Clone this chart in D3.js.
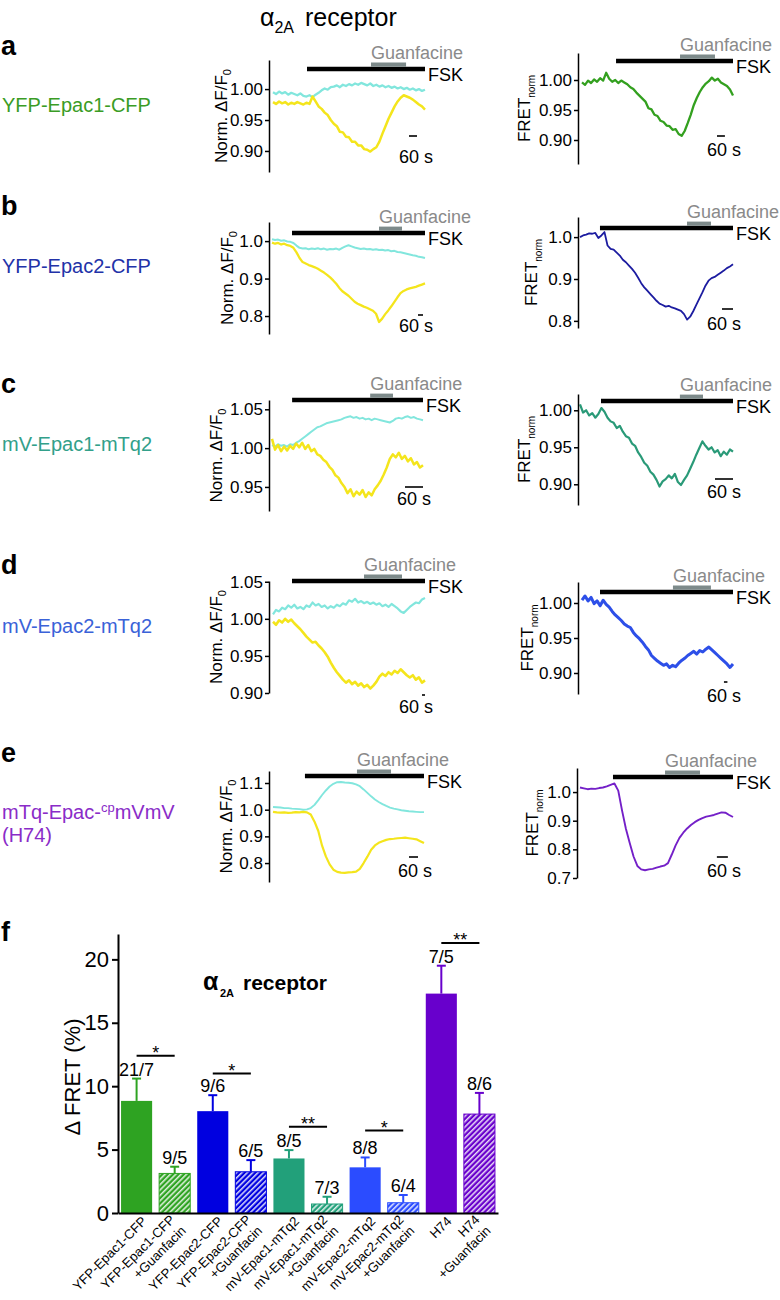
<!DOCTYPE html>
<html><head><meta charset="utf-8">
<script src="https://cdn.jsdelivr.net/npm/d3@7"></script>
<style>body{margin:0;background:#fff}svg{display:block}</style>
</head><body><svg id="chart" width="780" height="1300"></svg>
<script>
// ---------------- DATA ----------------
// timing arrays: [total duration (s), FSK on (s), guanfacine on (s), guanfacine off (s), 60-s scale bar start (s)]
const aLeftTiming  = [1140, 255, 735, 998, 1020];
const aRightTiming = [1140, 257, 740, 1004, 1019];
const bLeftTiming  = [1836, 240, 1284, 1560, 1752];
const bRightTiming = [835, 109, 584, 715, 775];
const cLeftTiming  = [503, 67, 327, 403, 443];
const cRightTiming = [510, 70, 333, 410, 450];
const dLeftTiming  = [3040, 380, 1820, 2580, 2980];
const dRightTiming = [2600, 310, 1566, 2220, 2444];
const eLeftTiming  = [1007, 213, 560, 787, 907];
const eRightTiming = [835, 180, 464, 655, 747];

const aLeftTicks = [0.90, 0.95, 1.00], aRightTicks = [0.90, 0.95, 1.00];
const bLeftTicks = [0.8, 0.9, 1.0], bRightTicks = [0.8, 0.9, 1.0];
const cLeftTicks = [0.95, 1.00, 1.05], cRightTicks = [0.90, 0.95, 1.00];
const dLeftTicks = [0.90, 0.95, 1.00, 1.05], dRightTicks = [0.90, 0.95, 1.00];
const eLeftTicks = [0.8, 0.9, 1.0, 1.1], eRightTicks = [0.7, 0.8, 0.9, 1.0];

const aLeftDomain = [0.866, 1.047], aRightDomain = [0.860, 1.045];
const bLeftDomain = [0.752, 1.051], bRightDomain = [0.783, 1.048];
const cLeftDomain = [0.919, 1.062], cRightDomain = [0.872, 1.022];
const dLeftDomain = [0.900, 1.051], dRightDomain = [0.870, 1.030];
const eLeftDomain = [0.729, 1.145], eRightDomain = [0.700, 1.084];

const aLeftCyan = [0.995,0.992,0.996,0.993,0.995,0.991,0.994,0.992,0.990,0.993,0.989,
 0.988,0.990,0.987,0.991,0.994,0.998,1.001,0.999,1.003,1.004,
 1.006,1.003,1.007,1.005,1.008,1.006,1.009,1.007,1.010,1.008,
 1.006,1.009,1.005,1.007,1.004,1.006,1.003,1.005,1.002,1.004,
 1.001,1.003,1.000,1.002,0.999,1.001,0.998,1.000,0.997,0.999];
const aLeftYellow = [0.979,0.976,0.980,0.977,0.979,0.975,0.978,0.976,0.979,0.977,0.975,0.978,0.976,
 0.988,0.980,0.972,0.968,0.962,0.958,0.950,0.944,
 0.940,0.931,0.930,0.923,0.922,0.915,0.915,0.909,0.909,0.903,
 0.902,0.899,0.903,0.906,
 0.915,0.928,0.940,0.952,0.962,0.972,0.980,0.986,0.990,0.988,0.986,0.983,0.979,0.975,0.972,0.967];
const aRightFret = [0.996,0.992,0.999,0.995,1.001,0.997,1.003,0.999,1.012,1.002,
 0.997,1.000,0.995,0.999,0.996,0.993,0.988,0.985,0.979,0.974,
 0.969,0.964,0.953,0.951,0.942,0.940,0.932,0.930,0.924,0.923,
 0.917,0.918,0.910,0.907,0.915,0.928,0.942,0.958,0.970,0.980,
 0.988,0.994,0.998,1.004,0.999,1.002,0.996,0.993,0.990,0.984,0.974];
const bLeftCyan = [1.005,1.003,1.004,1.001,1.002,0.999,0.998,0.995,0.988,0.982,
 0.980,0.981,0.978,0.980,0.979,0.981,0.978,0.980,0.977,0.979,
 0.978,0.980,0.977,0.982,0.986,0.989,0.986,0.983,0.981,0.979,
 0.980,0.978,0.979,0.977,0.978,0.976,0.977,0.975,0.976,0.973,
 0.974,0.971,0.970,0.968,0.966,0.964,0.962,0.961,0.958,0.957,0.955];
const bLeftYellow = [0.996,0.993,0.995,0.991,0.993,0.989,0.987,0.982,0.970,0.955,
 0.944,0.940,0.936,0.933,0.930,0.926,0.921,0.916,0.910,0.903,
 0.895,0.886,0.875,0.866,0.860,0.854,0.846,0.838,0.833,0.829,
 0.825,0.822,0.818,0.814,0.806,0.784,0.793,0.805,0.815,0.826,
 0.838,0.850,0.861,0.867,0.871,0.874,0.876,0.878,0.881,0.884,0.887];
const bRightFret = [1.000,1.004,1.006,1.009,1.008,1.010,0.998,1.004,1.012,0.980,
 0.972,0.970,0.963,0.956,0.946,0.940,0.932,0.924,0.915,0.903,
 0.890,0.880,0.872,0.864,0.856,0.848,0.841,0.838,0.834,0.836,
 0.832,0.830,0.827,0.824,0.816,0.803,0.810,0.823,0.838,0.853,
 0.868,0.884,0.896,0.902,0.905,0.910,0.915,0.920,0.926,0.930,0.935];
const cLeftCyan = [1.004,1.002,1.005,1.003,1.004,1.002,1.005,1.004,1.007,1.009,
 1.012,1.015,1.018,1.021,1.024,1.027,1.028,1.030,1.032,1.033,
 1.034,1.035,1.036,1.037,1.039,1.040,1.041,1.039,1.040,1.038,
 1.039,1.037,1.038,1.036,1.038,1.037,1.036,1.035,1.034,1.033,
 1.035,1.038,1.039,1.038,1.040,1.041,1.039,1.040,1.038,1.037,1.036];
const cLeftYellow = [1.012,0.998,1.004,0.996,1.002,0.997,1.003,0.999,1.006,1.001,
 1.007,0.999,1.004,0.996,0.999,0.992,0.990,0.985,0.982,0.976,
 0.972,0.965,0.962,0.955,0.950,0.942,0.947,0.938,0.944,0.940,
 0.946,0.937,0.943,0.939,0.947,0.952,0.958,0.966,0.975,0.986,
 0.992,0.988,0.994,0.986,0.990,0.983,0.987,0.979,0.982,0.975,0.978];
const cRightFret = [1.008,0.997,1.000,0.993,0.996,0.990,0.995,1.003,0.998,0.990,
 0.985,0.983,0.976,0.979,0.971,0.965,0.963,0.955,0.952,0.943,
 0.937,0.929,0.925,0.917,0.913,0.906,0.897,0.904,0.907,0.912,
 0.908,0.914,0.903,0.899,0.906,0.912,0.921,0.930,0.940,0.949,
 0.958,0.952,0.947,0.950,0.943,0.946,0.938,0.944,0.940,0.947,0.944];
const dLeftCyan = [1.006,1.012,1.010,1.015,1.013,1.018,1.015,1.019,1.014,1.016,
 1.013,1.018,1.016,1.022,1.018,1.020,1.016,1.018,1.014,1.017,
 1.015,1.019,1.017,1.021,1.019,1.025,1.023,1.027,1.022,1.024,
 1.021,1.023,1.020,1.022,1.019,1.021,1.017,1.019,1.016,1.020,
 1.017,1.014,1.010,1.008,1.012,1.016,1.019,1.022,1.021,1.026,1.028];
const dLeftYellow = [0.996,0.992,0.998,0.995,1.000,0.996,0.999,0.994,0.990,0.986,
 0.981,0.976,0.972,0.968,0.969,0.964,0.960,0.955,0.949,0.941,
 0.934,0.928,0.923,0.918,0.914,0.917,0.912,0.915,0.910,0.913,
 0.908,0.911,0.906,0.910,0.915,0.922,0.926,0.923,0.928,0.925,
 0.930,0.927,0.932,0.928,0.924,0.921,0.924,0.918,0.921,0.914,0.917];
const dRightFret = [1.004,1.010,1.003,1.008,0.999,1.003,0.996,1.004,0.998,0.994,
 0.988,0.983,0.979,0.975,0.970,0.967,0.965,0.958,0.953,0.949,
 0.944,0.938,0.933,0.925,0.921,0.917,0.914,0.911,0.913,0.908,
 0.911,0.909,0.914,0.918,0.921,0.925,0.928,0.931,0.927,0.932,
 0.930,0.934,0.937,0.933,0.929,0.925,0.921,0.917,0.913,0.908,0.913];
const eLeftCyan = [1.010,1.009,1.008,1.006,1.006,1.004,1.003,1.002,1.000,1.001,
 1.006,1.018,1.036,1.055,1.072,1.087,1.097,1.103,1.104,1.102,
 1.101,1.099,1.095,1.088,1.076,1.063,1.050,1.038,1.029,1.021,
 1.014,1.008,1.004,1.001,0.998,0.996,0.994,0.993,0.992,0.991,0.991];
const eLeftYellow = [0.992,0.990,0.989,0.990,0.988,0.989,0.991,0.990,0.992,0.990,
 0.982,0.955,0.920,0.865,0.825,0.795,0.775,0.767,0.764,0.763,
 0.765,0.766,0.768,0.778,0.800,0.824,0.850,0.866,0.876,0.882,
 0.887,0.890,0.891,0.893,0.894,0.895,0.893,0.891,0.889,0.882,0.875];
const eRightFret = [1.016,1.013,1.010,1.012,1.011,1.014,1.016,1.020,1.025,1.030,
 1.005,0.935,0.872,0.822,0.775,0.742,0.730,0.727,0.730,0.732,
 0.736,0.740,0.743,0.752,0.782,0.814,0.840,0.858,0.873,0.885,
 0.895,0.903,0.909,0.914,0.917,0.920,0.925,0.929,0.928,0.920,0.913];

// Bar chart (panel f)
const barCategories = ["YFP-Epac1-CFP","YFP-Epac1-CFP\n+Guanfacin","YFP-Epac2-CFP","YFP-Epac2-CFP\n+Guanfacin",
 "mV-Epac1-mTq2","mV-Epac1-mTq2\n+Guanfacin","mV-Epac2-mTq2","mV-Epac2-mTq2\n+Guanfacin","H74","H74\n+Guanfacin"];
const barValues = [8.84, 3.12, 8.03, 3.25, 4.30, 0.71, 3.60, 0.81, 17.3, 7.80];
const barErrors = [1.76, 0.53, 1.26, 0.92, 0.66, 0.57, 0.78, 0.61, 2.20, 1.67];
const barN = ["21/7","9/5","9/6","6/5","8/5","7/3","8/8","6/4","7/5","8/6"];
const barTicks = [0, 5, 10, 15, 20];
const sigPairs = [[0,1],[2,3],[4,5],[6,7],[8,9]];
const sigLabels = ["*","*","**","*","**"];
const sigLevels = [12.4, 11.0, 6.8, 6.5, 21.3];

// ---------------- STYLE ----------------
const FONT = '"Liberation Sans", Arial, Helvetica, sans-serif';
const CYAN = '#82e6dd', YELLOW = '#f4e51c';
const barPalette = ['#2ea322','#2ea322','#0000e0','#0000e0','#22a07a','#22a07a','#2b4cff','#2b4cff','#6800cc','#6800cc'];

const svg = d3.select('#chart').attr('font-family', FONT);

const panels = [
 {traces:[{v:aLeftCyan,c:CYAN,w:2.3},{v:aLeftYellow,c:YELLOW,w:2.5}], timing:aLeftTiming, ticks:aLeftTicks, domain:aLeftDomain, fmt:'.2f', kind:'norm',
  yRange:[172,60], axisX:269, x0:273, x1:425, fskY:69, scaleY:136, scaleTextY:163, titleX:227},
 {traces:[{v:aRightFret,c:'#33a01f',w:2.3}], timing:aRightTiming, ticks:aRightTicks, domain:aRightDomain, fmt:'.2f', kind:'fret',
  yRange:[164,53], axisX:578, x0:582, x1:733, fskY:61, scaleY:136, scaleTextY:156, titleX:530},
 {traces:[{v:bLeftCyan,c:CYAN,w:2},{v:bLeftYellow,c:YELLOW,w:2.3}], timing:bLeftTiming, ticks:bLeftTicks, domain:bLeftDomain, fmt:'.1f', kind:'norm',
  yRange:[334,222], axisX:269, x0:272, x1:425, fskY:233, scaleY:315, scaleTextY:332, titleX:233},
 {traces:[{v:bRightFret,c:'#1c1ca0',w:1.8}], timing:bRightTiming, ticks:bRightTicks, domain:bRightDomain, fmt:'.1f', kind:'fret',
  yRange:[328,217], axisX:578, x0:580, x1:733, fskY:228, scaleY:309, scaleTextY:330, titleX:537},
 {traces:[{v:cLeftCyan,c:CYAN,w:2},{v:cLeftYellow,c:YELLOW,w:2.5}], timing:cLeftTiming, ticks:cLeftTicks, domain:cLeftDomain, fmt:'.2f', kind:'norm',
  yRange:[511,400], axisX:269, x0:272, x1:423, fskY:400, scaleY:487, scaleTextY:505, titleX:222},
 {traces:[{v:cRightFret,c:'#2a9a78',w:2.2}], timing:cRightTiming, ticks:cRightTicks, domain:cRightDomain, fmt:'.2f', kind:'fret',
  yRange:[505,394], axisX:578, x0:580, x1:733, fskY:401, scaleY:479, scaleTextY:498, titleX:530},
 {traces:[{v:dLeftCyan,c:CYAN,w:2.2},{v:dLeftYellow,c:YELLOW,w:2.6}], timing:dLeftTiming, ticks:dLeftTicks, domain:dLeftDomain, fmt:'.2f', kind:'norm',
  yRange:[693,581], axisX:269, x0:273, x1:425, fskY:581, scaleY:695, scaleTextY:713, titleX:222},
 {traces:[{v:dRightFret,c:'#2d4fe8',w:3}], timing:dRightTiming, ticks:dRightTicks, domain:dRightDomain, fmt:'.2f', kind:'fret',
  yRange:[694,582], axisX:578, x0:582, x1:733, fskY:592, scaleY:682, scaleTextY:702, titleX:533},
 {traces:[{v:eLeftCyan,c:CYAN,w:1.9},{v:eLeftYellow,c:YELLOW,w:2.2}], timing:eLeftTiming, ticks:eLeftTicks, domain:eLeftDomain, fmt:'.1f', kind:'norm',
  yRange:[882,771], axisX:269, x0:273, x1:424, fskY:776, scaleY:857, scaleTextY:877, titleX:232},
 {traces:[{v:eRightFret,c:'#7420c8',w:1.9}], timing:eRightTiming, ticks:eRightTicks, domain:eRightDomain, fmt:'.1f', kind:'fret',
  yRange:[878,768], axisX:577, x0:580, x1:733, fskY:777, scaleY:857, scaleTextY:877, titleX:538}
];

function drawTracePanel(p) {
  const g = svg.append('g');
  const [dur, fskOn, gOn, gOff, sc] = p.timing;
  const t = d3.scaleLinear().domain([0, dur]).range([p.x0, p.x1]);
  const y = d3.scaleLinear().domain(p.domain).range(p.yRange);
  p.traces.forEach(tr => {
    const dt = dur / (tr.v.length - 1);
    g.append('path').datum(tr.v)
      .attr('fill', 'none').attr('stroke', tr.c).attr('stroke-width', tr.w || 1.7)
      .attr('stroke-linejoin', 'round')
      .attr('d', d3.line().x((d, i) => t(i * dt)).y(d => y(d)));
  });
  const axis = d3.axisLeft(y).tickValues(p.ticks).tickFormat(d3.format(p.fmt))
    .tickSize(4).tickSizeOuter(0).tickPadding(2);
  const ag = g.append('g').attr('transform', `translate(${p.axisX},0)`).call(axis)
    .attr('font-size', 17).attr('font-family', FONT);
  ag.select('.domain').attr('stroke-width', 1.5).attr('stroke', '#000');
  ag.selectAll('.tick line').attr('stroke-width', 1.5).attr('stroke', '#000');
  ag.selectAll('.tick text').attr('fill', '#000');
  // FSK & guanfacine application bars
  g.append('line').attr('x1', t(fskOn)).attr('x2', t(dur)).attr('y1', p.fskY).attr('y2', p.fskY)
    .attr('stroke', '#000').attr('stroke-width', 4.4);
  g.append('line').attr('x1', t(gOn)).attr('x2', t(gOff)).attr('y1', p.fskY - 4.3).attr('y2', p.fskY - 4.3)
    .attr('stroke', '#7d8a8a').attr('stroke-width', 4.2);
  g.append('text').attr('x', t(gOn)).attr('y', p.fskY - 10).attr('font-size', 18).attr('fill', '#8a8a8a').text('Guanfacine');
  g.append('text').attr('x', t(dur) + 3).attr('y', p.fskY + 12).attr('font-size', 18).attr('fill', '#000').text('FSK');
  // 60 s scale bar
  g.append('line').attr('x1', t(sc)).attr('x2', t(sc + 60)).attr('y1', p.scaleY).attr('y2', p.scaleY)
    .attr('stroke', '#000').attr('stroke-width', 1.6);
  g.append('text').attr('x', p.x1 + 8).attr('y', p.scaleTextY).attr('text-anchor', 'end').attr('font-size', 18).text('60 s');
  // y title
  const ym = (p.yRange[0] + p.yRange[1]) / 2;
  const tt = g.append('text').attr('transform', `translate(${p.titleX},${ym}) rotate(-90)`)
    .attr('text-anchor', 'middle').attr('font-size', 17).attr('fill', '#000');
  if (p.kind === 'norm') {
    tt.append('tspan').text('Norm. \u0394F/F');
    tt.append('tspan').attr('font-size', 11).attr('dy', 4).text('0');
  } else {
    tt.append('tspan').text('FRET');
    tt.append('tspan').attr('font-size', 10).attr('dy', 5).text('norm');
  }
}
panels.forEach(drawTracePanel);

// ---------- Titles, panel letters, construct names ----------
const title = svg.append('text').attr('x', 260).attr('y', 26).attr('fill', '#000');
title.append('tspan').attr('font-size', 25).text('\u03b1');
title.append('tspan').attr('font-size', 16).attr('dy', 7).text('2A');
title.append('tspan').attr('font-size', 25).attr('x', 305).attr('dy', -7).text('receptor');

const letters = [['a', 55], ['b', 215], ['c', 393], ['d', 574], ['e', 762], ['f', 941]];
letters.forEach(([l, yy]) => svg.append('text').attr('x', 1).attr('y', yy).attr('font-size', 27)
  .attr('font-weight', 'bold').attr('fill', '#000').text(l));

const constructs = [['YFP-Epac1-CFP', 112, '#3a9c25'], ['YFP-Epac2-CFP', 273, '#2232a8'],
  ['mV-Epac1-mTq2', 451, '#32a08a'], ['mV-Epac2-mTq2', 633, '#3a62d8']];
constructs.forEach(([s, yy, c]) => svg.append('text').attr('x', 2).attr('y', yy).attr('font-size', 20).attr('fill', c).text(s));
const h74 = svg.append('text').attr('x', 2).attr('y', 819).attr('font-size', 20).attr('fill', '#8a2cc8');
h74.append('tspan').text('mTq-Epac-');
h74.append('tspan').attr('font-size', 13).attr('dy', -7).text('cp');
h74.append('tspan').attr('dy', 7).text('mVmV');
svg.append('text').attr('x', 2).attr('y', 842).attr('font-size', 20).attr('fill', '#8a2cc8').text('(H74)');

// ---------- Panel f: bar chart ----------
const fg = svg.append('g');
const xb = d3.scaleBand().domain(d3.range(barValues.length)).range([118, 498]).paddingInner(0.184).paddingOuter(0.08);
const yb = d3.scaleLinear().domain([0, 22]).range([1213, 934]);
const defs = svg.append('defs');
barPalette.forEach((c, i) => {
  if (i % 2 === 1) {
    const pat = defs.append('pattern').attr('id', 'hatch' + i).attr('patternUnits', 'userSpaceOnUse')
      .attr('width', 3.8).attr('height', 3.8).attr('patternTransform', 'rotate(45)');
    pat.append('rect').attr('width', 3.8).attr('height', 3.8).attr('fill', c);
    pat.append('line').attr('x1', 0.8).attr('y1', 0).attr('x2', 0.8).attr('y2', 3.8).attr('stroke', '#fff').attr('stroke-width', 1.3);
  }
});
const bw = xb.bandwidth();
barValues.forEach((v, i) => {
  const c = barPalette[i];
  const cx = xb(i) + bw / 2;
  fg.append('rect').attr('x', xb(i)).attr('y', yb(v)).attr('width', bw).attr('height', yb(0) - yb(v))
    .attr('fill', i % 2 ? `url(#hatch${i})` : c).attr('stroke', c).attr('stroke-width', i % 2 ? 1 : 0);
  const top = yb(v + barErrors[i]);
  fg.append('line').attr('x1', cx).attr('x2', cx).attr('y1', yb(v)).attr('y2', top).attr('stroke', c).attr('stroke-width', 2);
  fg.append('line').attr('x1', cx - 4.5).attr('x2', cx + 4.5).attr('y1', top).attr('y2', top).attr('stroke', c).attr('stroke-width', 2);
  fg.append('text').attr('x', cx).attr('y', top - 3).attr('text-anchor', 'middle').attr('font-size', 18).attr('fill', '#000').text(barN[i]);
});
// axes
const yAxis = d3.axisLeft(yb).tickValues(barTicks).tickSize(6).tickSizeOuter(0).tickPadding(3);
const yag = fg.append('g').attr('transform', 'translate(118,0)').call(yAxis).attr('font-size', 22).attr('font-family', FONT);
yag.select('.domain').attr('stroke-width', 2).attr('stroke', '#000');
yag.selectAll('.tick line').attr('stroke-width', 2).attr('stroke', '#000');
yag.selectAll('.tick text').attr('fill', '#000');
const xAxis = d3.axisBottom(xb).tickSize(0).tickSizeOuter(0).tickFormat('');
const xag = fg.append('g').attr('transform', `translate(0,${yb(0)})`).call(xAxis);
xag.select('.domain').attr('stroke-width', 2).attr('stroke', '#000');
// x labels
barCategories.forEach((lab, i) => {
  const cx = xb(i) + bw / 2;
  const lines = lab.split('\n');
  const tx = fg.append('text').attr('transform', `translate(${cx + 11},1222) rotate(-45)`)
    .attr('text-anchor', 'end').attr('font-size', 13.2).attr('fill', '#000');
  if (lines.length === 1) tx.append('tspan').attr('x', 0).attr('y', 0).text(lines[0]);
  else {
    tx.append('tspan').attr('x', -6).attr('y', -8).text(lines[0]);
    tx.append('tspan').attr('x', -6).attr('y', 7.5).text(lines[1]);
  }
});
// y title
fg.append('text').attr('transform', 'translate(80,1077) rotate(-90)').attr('text-anchor', 'middle')
  .attr('font-size', 22).attr('fill', '#000').text('\u0394 FRET (%)');
// significance
sigPairs.forEach(([a, b], k) => {
  const x1 = xb(a) + bw / 2, x2 = xb(b) + bw / 2, yy = yb(sigLevels[k]);
  fg.append('line').attr('x1', x1).attr('x2', x2).attr('y1', yy).attr('y2', yy).attr('stroke', '#000').attr('stroke-width', 2);
  fg.append('text').attr('x', (x1 + x2) / 2).attr('y', yy + 3).attr('text-anchor', 'middle').attr('font-size', 18).text(sigLabels[k]);
});
// inner title
const it = fg.append('text').attr('x', 203).attr('y', 990).attr('font-weight', 'bold').attr('fill', '#000');
it.append('tspan').attr('font-size', 25).text('\u03b1');
it.append('tspan').attr('font-size', 11).attr('x', 220).attr('dy', 7).text('2A');
it.append('tspan').attr('font-size', 21).attr('x', 243).attr('dy', -7).text('receptor');
</script></body></html>
